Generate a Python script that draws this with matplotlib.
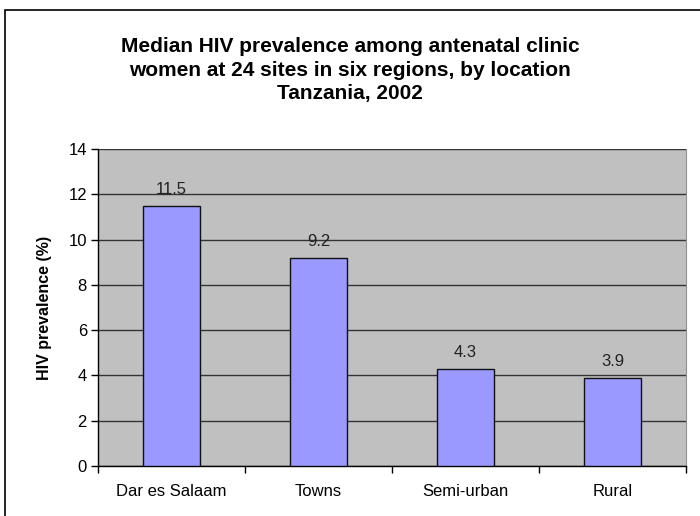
import matplotlib.pyplot as plt
from matplotlib.patches import Rectangle
import numpy as np

plt.rcParams['font.family'] = ['Liberation Sans', 'DejaVu Sans']

categories = ['Dar es Salaam', 'Towns', 'Semi-urban', 'Rural']
prevalence = [11.5, 9.2, 4.3, 3.9]
yticks = [0, 2, 4, 6, 8, 10, 12, 14]

fig = plt.figure(figsize=(7, 5.16), dpi=100)
ax = fig.add_axes([98 / 700, 1 - 466 / 516, 588 / 700, 317 / 516])

x = np.arange(len(categories))
ax.set_facecolor('#C0C0C0')
ax.bar(x, prevalence, width=0.39, color='#9999FF', edgecolor='#111111',
       linewidth=1, zorder=3)
for xi, v in zip(x, prevalence):
    ax.text(xi, v + 0.4, f'{v}', ha='center', va='bottom', fontsize=12,
            color='#222222', zorder=4)

ax.set_xlim(-0.5, len(categories) - 0.5)
ax.set_ylim(0, 14)
ax.set_yticks(yticks)
ax.grid(axis='y', color='#333333', linewidth=1, zorder=1)
ax.set_xticks(x)
ax.set_xticklabels(categories, fontsize=12)
ax.tick_params(axis='x', length=0, pad=13)
ax.set_xticks(np.arange(len(categories) + 1) - 0.5, minor=True)
ax.tick_params(axis='x', which='minor', length=5, width=1, direction='out')
ax.tick_params(axis='y', length=5, width=1, labelsize=12, pad=3)
ax.spines['top'].set_visible(False)
ax.spines['right'].set_color('#909090')
ax.spines['left'].set_linewidth(1)
ax.spines['bottom'].set_linewidth(1)
ax.set_ylabel('HIV prevalence (%)', fontsize=11.5, fontweight='bold',
              labelpad=12)

fig.text(0.5, 1 - 70 / 516,
         'Median HIV prevalence among antenatal clinic\n'
         'women at 24 sites in six regions, by location\n'
         'Tanzania, 2002',
         ha='center', va='center', fontsize=15, fontweight='bold',
         linespacing=1.27)

# chart frame: only left and top edges fall inside the image
fig.patches.append(Rectangle((5 / 700, -0.5), 2, 1.5 - 10 / 516,
                             transform=fig.transFigure, fill=False,
                             edgecolor='black', linewidth=1.2))

plt.savefig('out.png', dpi=100)
